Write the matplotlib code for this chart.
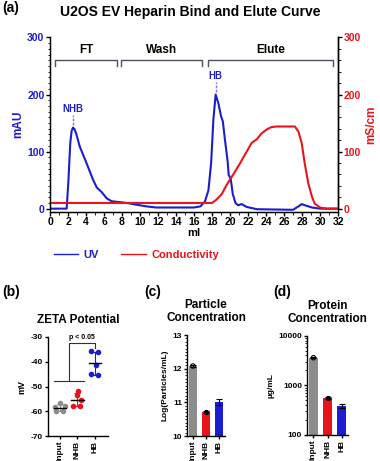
import numpy as np
import matplotlib
matplotlib.use("Agg")
import matplotlib.pyplot as plt
from matplotlib.ticker import MultipleLocator, LogLocator, NullFormatter

plt.rcParams['font.family'] = ['Liberation Sans', 'DejaVu Sans']
plt.rcParams['font.weight'] = 'bold'
plt.rcParams['axes.unicode_minus'] = False

BLUE = '#1c1cd0'
RED = '#e8141c'
GRAY = '#8c8c8c'

# Хроматограмма (a)
uv_ml = [0, 1.0, 1.85, 2.05, 2.25, 2.4, 2.55, 2.7, 2.9, 3.3, 4.0, 4.8, 5.2, 5.74, 6.3, 6.85, 8.5, 10.7, 11.8,
         13.7, 16.0, 16.7, 17.2, 17.6, 17.9, 18.15, 18.4, 18.7, 19.0, 19.2, 19.44, 19.74, 19.85,
         20.07, 20.3, 20.6, 20.9, 21.3, 21.85, 23.0, 27.0, 27.6, 27.96, 28.3, 29.1, 30.0, 32.0]
uv_mau = [0, 0, 0, 50, 115, 136, 142, 140, 132, 109, 82, 50, 37, 29, 18, 13, 10, 4, 2,
          2, 2, 4, 12, 32, 80, 156, 200, 185, 162, 153, 120, 82, 59,
          53, 26, 10, 6, 8, 3, -1, -2, 4, 8, 6, 2, 0, 0]

cond_ml = [0, 10, 18.0, 18.5, 19.1, 19.6, 20.4, 21.1, 21.85, 22.4, 23.0, 23.5, 24.1, 24.6, 25.2,
           27.2, 27.6, 27.96, 28.3, 28.7, 29.1, 29.4, 30.0, 30.7, 32.0]
cond_ms = [10, 10, 10, 16, 26, 41, 61, 79, 100, 115, 122, 132, 139, 143, 144,
           144, 135, 115, 79, 44, 21, 9, 2, 0, 0]

# Фракции: (название, начало, конец)
fractions = [('FT', 0.55, 7.45), ('Wash', 7.85, 16.9), ('Elute', 17.6, 31.4)]
peaks = [('NHB', 2.55, 142), ('HB', 18.4, 200)]

# (b) дзета-потенциал
groups = ['Input', 'NHB', 'HB']
zeta = [[-56.5, -58.0, -58.2, -60.0, -60.0],
        [-51.7, -53.3, -55.5, -57.8, -58.0],
        [-35.7, -36.2, -41.3, -44.9, -45.2]]
zeta_dx = [[0.0, 0.3, -0.3, -0.2, 0.2],
           [0.05, -0.05, 0.2, -0.25, 0.15],
           [-0.2, 0.2, 0.05, -0.2, 0.2]]

# (c) концентрация частиц
particle = [12.08, 10.71, 11.0]
particle_err = [0.02, 0.03, 0.09]

# (d) концентрация белка
protein = [3600, 565, 385]
protein_err = [60, 25, 30]

colors = [GRAY, RED, BLUE]

fig = plt.figure(figsize=(3.8, 4.61), dpi=100)

# ---- (a) ----
ax = fig.add_axes([0.1316, 0.5412, 0.758, 0.3775])
ax.plot(uv_ml, uv_mau, color=BLUE, lw=1.5)
ax.set_xlim(0, 32)
ax.set_ylim(-5, 300)
ax.spines['left'].set_bounds(0, 300)
ax.spines['top'].set_visible(False)
ax.xaxis.set_major_locator(MultipleLocator(2))
ax.xaxis.set_minor_locator(MultipleLocator(1))
ax.yaxis.set_major_locator(MultipleLocator(100))
ax.yaxis.set_minor_locator(MultipleLocator(10))
ax.tick_params(axis='x', labelsize=7.5, length=3, width=1, pad=1)
ax.tick_params(axis='x', which='minor', length=2)
ax.tick_params(axis='y', labelsize=7.5, length=3, width=1, colors='black', labelcolor=BLUE, pad=1)
ax.tick_params(axis='y', which='minor', length=1.5)
for lab in ax.get_xticklabels() + ax.get_yticklabels():
    lab.set_fontweight('bold')
ax.set_xlabel('ml', fontsize=8, fontweight='bold', labelpad=1)
ax.set_ylabel('mAU', fontsize=8.5, fontweight='bold', color=BLUE, labelpad=2)
for s in ['left', 'bottom', 'right']:
    ax.spines[s].set_linewidth(1)

ax2 = ax.twinx()
ax2.plot(cond_ml, cond_ms, color=RED, lw=1.5)
ax2.set_ylim(-5, 300)
ax2.spines['right'].set_bounds(0, 300)
ax2.spines['top'].set_visible(False)
ax2.yaxis.set_major_locator(MultipleLocator(100))
ax2.yaxis.set_minor_locator(MultipleLocator(20))
ax2.tick_params(axis='y', labelsize=7.5, length=3, width=1, colors='black', labelcolor=RED, pad=1)
ax2.tick_params(axis='y', which='minor', length=2)
for lab in ax2.get_yticklabels():
    lab.set_fontweight('bold')
ax2.set_ylabel('mS/cm', fontsize=8.5, fontweight='bold', color=RED, labelpad=3)
ax2.spines['right'].set_linewidth(1)

for name, x0, x1 in fractions:
    ax.plot([x0, x0, x1, x1], [250, 260, 260, 250], color='#505060', lw=1)
    ax.text((x0 + x1) / 2, 268, name, ha='center', va='bottom', fontsize=8.5, fontweight='bold')
for name, x, y in peaks:
    ax.plot([x, x], [y + 5, y + 22], color='#7a7ae0', lw=1, ls=(0, (2, 1)))
    ax.text(x, y + 24, name, ha='center', va='bottom', fontsize=7, fontweight='bold', color=BLUE)

fig.text(0.5, 0.974, 'U2OS EV Heparin Bind and Elute Curve', ha='center', va='center',
         fontsize=10, fontweight='bold')
fig.text(0.005, 0.982, '(a)', ha='left', va='center', fontsize=10, fontweight='bold')

leg = fig.legend(handles=[plt.Line2D([], [], color=BLUE, lw=1),
                          plt.Line2D([], [], color=RED, lw=1)],
                 labels=['UV', 'Conductivity'], ncol=2, frameon=False,
                 loc='center left', bbox_to_anchor=(0.115, 0.447), fontsize=8,
                 handlelength=2.2, handletextpad=0.5, columnspacing=2.0, labelcolor='linecolor')
for t in leg.get_texts():
    t.set_fontweight('bold')


def style_small(a):
    a.spines['top'].set_visible(False)
    a.spines['right'].set_visible(False)
    a.spines['left'].set_linewidth(1)
    a.spines['bottom'].set_linewidth(1)
    a.set_xticks(range(3))
    a.set_xticklabels(groups, rotation=90, fontsize=6, fontweight='bold')
    a.tick_params(axis='x', length=2.5, width=1, pad=1)
    a.tick_params(axis='y', labelsize=6, length=2.5, width=1, pad=1)
    for lab in a.get_yticklabels():
        lab.set_fontweight('bold')


# ---- (b) ----
bx = fig.add_axes([0.1255, 0.0542, 0.1587, 0.2148])
for i, vals in enumerate(zeta):
    m = np.mean(vals)
    sd = np.std(vals, ddof=1)
    bx.errorbar(i, m, yerr=sd, color=colors[i], capsize=2, lw=0.8, capthick=0.8, fmt='none')
    bx.scatter(i + np.array(zeta_dx[i]), vals, s=9, color=colors[i], zorder=3)
    bx.plot([i - 0.35, i + 0.35], [m, m], color='black', lw=1, zorder=4)
bx.set_xlim(-0.7, 2.75)
bx.set_ylim(-70, -30)
bx.yaxis.set_major_locator(MultipleLocator(10))
style_small(bx)
bx.set_ylabel('mV', fontsize=6.5, fontweight='bold', labelpad=3)
bx.plot([-0.35, 1.35], [-47.6, -47.6], color='#303030', lw=0.8)
bx.plot([0.5, 0.5, 2.0, 2.0], [-47.6, -32.5, -32.5, -34.5], color='#303030', lw=0.8)
bx.text(1.25, -31.8, 'p < 0.05', ha='center', va='bottom', fontsize=5, fontweight='bold')
bx.set_title('ZETA Potential', fontsize=8.5, fontweight='bold', pad=10)
fig.text(0.005, 0.366, '(b)', ha='left', va='center', fontsize=10, fontweight='bold')

# ---- (c) ----
cx = fig.add_axes([0.492, 0.0542, 0.1, 0.219])
cx.bar(range(3), particle, width=0.62, color=colors, bottom=0)
cx.errorbar(range(3), particle, yerr=particle_err, fmt='none', ecolor='black',
            capsize=2, lw=0.8, capthick=0.8)
cx.scatter([0], [particle[0]], s=10, facecolor='none', edgecolor='black', lw=0.8, zorder=3)
cx.scatter([1], [particle[1]], s=8, color='black', zorder=3)
cx.set_xlim(-0.46, 2.46)
cx.set_ylim(10, 13)
cx.yaxis.set_major_locator(MultipleLocator(1))
cx.yaxis.set_minor_locator(MultipleLocator(0.1))
style_small(cx)
cx.tick_params(axis='y', which='minor', length=1.3, width=0.6)
cx.set_ylabel('Log(Particles/mL)', fontsize=6, fontweight='bold', labelpad=3)
cx.set_title('Particle\nConcentration', fontsize=8.5, fontweight='bold', pad=10, linespacing=1.1)
fig.text(0.38, 0.366, '(c)', ha='left', va='center', fontsize=10, fontweight='bold')

# ---- (d) ----
dx = fig.add_axes([0.8079, 0.0564, 0.108, 0.2154])
dx.bar(range(3), protein, width=0.62, color=colors)
dx.errorbar(range(3), protein, yerr=protein_err, fmt='none', ecolor='black',
            capsize=2, lw=0.8, capthick=0.8)
dx.scatter([0], [protein[0]], s=10, facecolor='none', edgecolor='black', lw=0.8, zorder=3)
dx.scatter([1], [protein[1]], s=8, color='black', zorder=3)
dx.set_yscale('log')
dx.set_xlim(-0.46, 2.46)
dx.set_ylim(100, 10000)
dx.yaxis.set_minor_locator(LogLocator(base=10, subs=np.arange(2, 10), numticks=10))
dx.yaxis.set_minor_formatter(NullFormatter())
dx.set_yticks([100, 1000, 10000])
dx.set_yticklabels(['100', '1000', '10000'])
style_small(dx)
dx.tick_params(axis='y', which='minor', length=1.3, width=0.6)
dx.set_ylabel('µg/mL', fontsize=6, fontweight='bold', labelpad=3)
dx.set_title('Protein\nConcentration', fontsize=8.5, fontweight='bold', pad=10, linespacing=1.1)
fig.text(0.718, 0.366, '(d)', ha='left', va='center', fontsize=10, fontweight='bold')

fig.savefig('out.png', dpi=100)
